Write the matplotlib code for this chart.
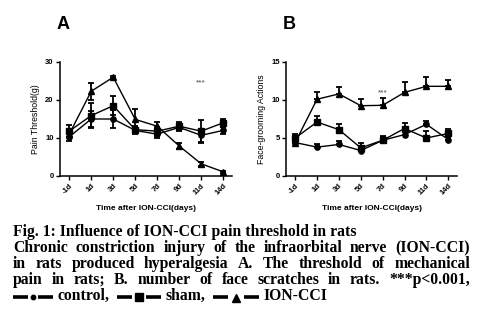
import matplotlib
matplotlib.use("Agg")
import matplotlib.pyplot as plt
from matplotlib.lines import Line2D
import numpy as np

xlabels = ['-1d', '1d', '3d', '5d', '7d', '9d', '11d', '14d']

A_control = [10.3, 15.0, 15.0, 12.0, 11.0, 12.8, 10.7, 12.0]
A_control_err = [1.0, 2.2, 2.3, 1.0, 1.0, 1.0, 1.8, 1.0]
A_sham = [11.8, 15.9, 18.5, 12.2, 11.8, 13.1, 11.8, 14.0]
A_sham_err = [1.5, 3.3, 2.5, 1.0, 1.2, 1.0, 3.0, 1.0]
A_ion = [11.0, 22.3, 26.0, 14.9, 13.1, 7.9, 3.2, 1.1]
A_ion_err = [1.0, 2.2, 0.2, 2.7, 1.0, 0.8, 0.6, 0.2]

B_control = [4.4, 3.8, 4.15, 3.35, 4.7, 5.45, 6.8, 4.8]
B_control_err = [0.4, 0.35, 0.45, 0.3, 0.4, 0.5, 0.5, 0.3]
B_sham = [5.0, 7.1, 6.1, 3.7, 4.7, 6.25, 5.0, 5.6]
B_sham_err = [0.5, 0.8, 0.8, 0.6, 0.6, 0.75, 0.9, 0.65]
B_ion = [4.4, 10.1, 10.8, 9.25, 9.3, 11.0, 11.8, 11.8]
B_ion_err = [0.5, 0.9, 0.9, 0.85, 1.0, 1.4, 1.2, 0.8]

caption_lines = [
    "Fig. 1: Influence of ION-CCI pain threshold in rats",
    "Chronic constriction injury of the infraorbital nerve (ION-CCI)",
    "in rats produced hyperalgesia A. The threshold of mechanical",
    "pain in rats; B. number of face scratches in rats. ***p<0.001,",
]
legend_names = ["control,", "sham,", "ION-CCI"]
legend_markers = ['o', 's', '^']

W, H = 481, 333
fig = plt.figure(figsize=(W / 100, H / 100), dpi=100)
sans = ['Liberation Sans', 'DejaVu Sans']

x = np.arange(len(xlabels))


def panel(rect, series, ylim, yticks, ylabel, letter, star_x, star_y, upper_only):
    ax = fig.add_axes(rect)
    for vals, errs, mk, ms in series:
        errs = np.array(errs)
        yerr = [np.zeros_like(errs), errs] if upper_only else errs
        ax.errorbar(x, vals, yerr=yerr, color='black', marker=mk, ms=ms,
                    lw=1.0, elinewidth=1.3, capsize=2.2, capthick=1.3)
    ax.set_xlim(-0.42, 7.4)
    ax.set_ylim(*ylim)
    ax.set_yticks(yticks)
    ax.set_xticks(x)
    ax.set_xticklabels(xlabels, rotation=45, ha='right', rotation_mode='anchor',
                       fontsize=5.5, family=sans, fontweight='bold')
    for lab in ax.get_yticklabels():
        lab.set_fontsize(5.5)
        lab.set_family(sans)
        lab.set_fontweight('bold')
    for s in ['top', 'right']:
        ax.spines[s].set_visible(False)
    for s in ['left', 'bottom']:
        ax.spines[s].set_linewidth(1.1)
    ax.tick_params(direction='out', length=3, width=1.0, pad=1.5)
    ax.set_ylabel(ylabel, fontsize=6.3, family=sans, labelpad=4)
    ax.set_xlabel('Time after ION-CCI(days)', fontsize=6, family=sans,
                  fontweight='bold', labelpad=6)
    ax.text(star_x, star_y, '***', ha='center', va='center', fontsize=6,
            color='#444444', family=sans)
    ax.text(0.02, 1.33, letter, transform=ax.transAxes, fontsize=13,
            fontweight='bold', family=sans, ha='center', va='center')
    return ax


panel([60 / W, 1 - 176 / H, 172 / W, 114 / H],
      [(A_control, A_control_err, 'o', 3.8),
       (A_sham, A_sham_err, 's', 4.2),
       (A_ion, A_ion_err, '^', 3.8)],
      (0, 30), [0, 10, 20, 30], 'Pain Threshold(g)', 'A', 6, 24.5, False)

panel([286 / W, 1 - 176 / H, 171 / W, 114 / H],
      [(B_control, B_control_err, 'o', 3.8),
       (B_sham, B_sham_err, 's', 4.2),
       (B_ion, B_ion_err, '^', 3.8)],
      (0, 15), [0, 5, 10, 15], 'Face-grooming Actions', 'B', 4, 10.9, True)

# caption with justification
renderer = fig.canvas.get_renderer()
serif = ['Liberation Serif', 'DejaVu Sans']
left_px, right_px = 13, 470
ys = [232, 248, 264, 280, 296]
fs = 11.3
for i, (line, yc) in enumerate(zip(caption_lines, ys)):
    yf = 1 - yc / H
    if i in (1, 2, 3):
        words = line.split(' ')
        texts = [fig.text(0, yf, w, fontsize=fs, family=serif, fontweight='bold',
                          va='center', ha='left') for w in words]
        widths = [t.get_window_extent(renderer).width for t in texts]
        gap = (right_px - left_px - sum(widths)) / (len(words) - 1)
        xp = left_px
        for t, w in zip(texts, widths):
            t.set_x(xp / W)
            xp += w + gap
    else:
        fig.text(left_px / W, yf, line, fontsize=fs, family=serif,
                 fontweight='bold', va='center', ha='left')

# legend line (caption line 5)
yc = ys[4]
yf = 1 - yc / H
xp = left_px
dash_w = 15
for name, mk in zip(legend_names, legend_markers):
    yline = 1 - (yc + 1) / H
    msz = {'o': 3.2, 's': 5.3, '^': 6.3}[mk]
    mgap = {'o': 10, 's': 14, '^': 16}[mk]
    fig.add_artist(Line2D([xp / W, (xp + dash_w) / W], [yline, yline],
                          transform=fig.transFigure, color='black', lw=2.6,
                          solid_capstyle='butt'))
    xm = xp + dash_w + mgap / 2
    fig.add_artist(Line2D([xm / W], [yline - (0.5 / H if mk == '^' else 0)],
                          transform=fig.transFigure, color='black', marker=mk,
                          ms=msz, ls='none'))
    x2 = xp + dash_w + mgap
    fig.add_artist(Line2D([x2 / W, (x2 + dash_w) / W], [yline, yline],
                          transform=fig.transFigure, color='black', lw=2.6,
                          solid_capstyle='butt'))
    xp = x2 + dash_w + 5
    t = fig.text(xp / W, yf, name, fontsize=fs, family=serif, fontweight='bold',
                 va='center', ha='left')
    xp += t.get_window_extent(renderer).width + 7

fig.savefig('out.png', dpi=100)
